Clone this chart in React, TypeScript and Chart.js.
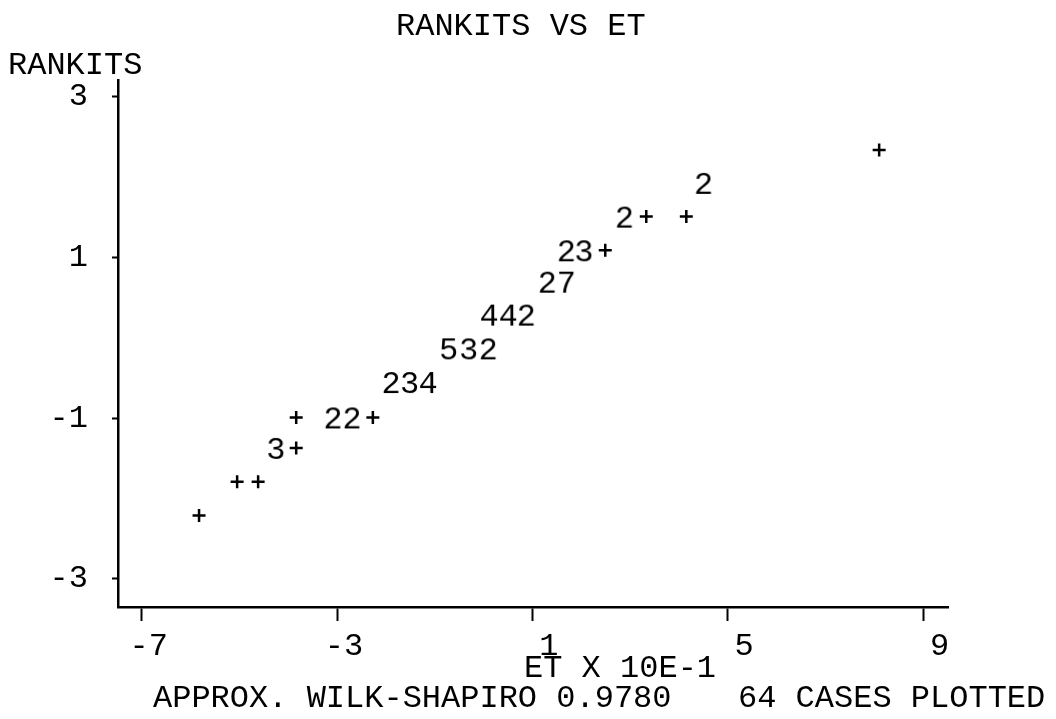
import React, { useEffect, useRef } from 'react';
import { Chart, registerables } from 'chart.js';

Chart.register(...registerables);

const FONT = '"Liberation Mono", "Courier New", monospace';
const FONT_SIZE = 32;

// Character cells of the line-printer normal plot.
// x = ET x 10E-1, y = rankit, mark: '+' = one case, digit = number of cases in the cell
const cellX = [8.10, 4.50, 2.88, 3.33, 4.15, 1.69, 2.06, 2.49, 1.30, 1.69, 0.11, 0.50, 0.87, -0.71, -0.30, 0.09, -1.90, -1.51, -1.14, -3.84, -3.09, -2.70, -2.27, -4.25, -3.84, -5.05, -4.62, -5.83];
const cellY = [2.34, 1.93, 1.51, 1.51, 1.51, 1.09, 1.09, 1.09, 0.70, 0.70, 0.29, 0.29, 0.29, -0.13, -0.13, -0.13, -0.55, -0.55, -0.55, -0.99, -0.99, -0.99, -0.99, -1.37, -1.37, -1.79, -1.79, -2.21];
const cellMark = ['+', '2', '2', '+', '+', '2', '3', '+', '2', '7', '4', '4', '2', '5', '3', '2', '2', '3', '4', '+', '2', '2', '+', '3', '+', '+', '+', '+'];

const xTicks = [-7, -3, 1, 5, 9];
const yTicks = [-3, -1, 1, 3];

const titleText = 'RANKITS VS ET';
const yTitle = 'RANKITS';
const xTitle = 'ET X 10E-1';
const footLeft = 'APPROX. WILK-SHAPIRO 0.9780';
const footRight = '64 CASES PLOTTED';

const W = 1056;
const H = 719;

function makeGlyph(ch: string): HTMLCanvasElement {
  const c = document.createElement('canvas');
  c.width = 28;
  c.height = 34;
  const g = c.getContext('2d')!;
  g.font = `${FONT_SIZE}px ${FONT}`;
  g.fillStyle = '#000';
  g.textAlign = 'left';
  g.textBaseline = 'alphabetic';
  const m = g.measureText(ch);
  const gw = m.actualBoundingBoxLeft + m.actualBoundingBoxRight;
  const gh = m.actualBoundingBoxAscent + m.actualBoundingBoxDescent;
  const x = (c.width - gw) / 2 + m.actualBoundingBoxLeft;
  const y = (c.height - gh) / 2 + m.actualBoundingBoxAscent;
  g.fillText(ch, x, y);
  return c;
}

const textPlugin = {
  id: 'printerText',
  afterDraw(chart: any) {
    const ctx = chart.ctx as CanvasRenderingContext2D;
    ctx.save();
    ctx.fillStyle = '#000';
    ctx.font = `${FONT_SIZE}px ${FONT}`;
    ctx.textAlign = 'left';
    ctx.textBaseline = 'alphabetic';
    ctx.fillText(titleText, 396, 35);
    ctx.fillText(yTitle, 8, 74);
    ctx.fillText(xTitle, 524, 677);
    ctx.fillText(footLeft, 153, 707);
    ctx.fillText(footRight, 738, 707);
    ctx.restore();
  },
};

export default function App() {
  const ref = useRef<HTMLCanvasElement | null>(null);

  useEffect(() => {
    if (!ref.current) return;
    const glyphs: Record<string, HTMLCanvasElement> = {};
    cellMark.forEach((m) => {
      if (m !== '+' && !glyphs[m]) glyphs[m] = makeGlyph(m);
    });
    const data = cellX.map((x, i) => ({ x, y: cellY[i] }));

    const chart = new Chart(ref.current, {
      type: 'scatter',
      data: {
        datasets: [
          {
            label: 'RANKITS',
            data,
            showLine: false,
            pointStyle: (c: any) => {
              const m = cellMark[c.dataIndex];
              return m === '+' ? 'cross' : glyphs[m];
            },
            pointRadius: 6.5,
            pointBorderWidth: 2.5,
            pointBorderColor: '#000',
            pointBackgroundColor: '#000',
          } as any,
        ],
      },
      options: {
        animation: false,
        responsive: false,
        devicePixelRatio: 1,
        events: [],
        layout: { padding: { top: 80, right: 108, left: 0, bottom: 0 } },
        plugins: {
          legend: { display: false },
          tooltip: { enabled: false },
          title: { display: false },
        },
        scales: {
          x: {
            type: 'linear',
            min: -7.49,
            max: 9.51,
            afterBuildTicks: (s: any) => {
              s.ticks = xTicks.map((v) => ({ value: v }));
            },
            afterFit: (s: any) => {
              s.height = H - 607;
            },
            grid: { drawOnChartArea: false, drawTicks: true, tickLength: 14, tickWidth: 2, tickColor: '#000' },
            border: { display: true, color: '#000', width: 2.5 },
            ticks: {
              color: '#000',
              font: { family: FONT, size: FONT_SIZE },
              align: 'end',
              labelOffset: 26,
              padding: 6,
              maxRotation: 0,
              autoSkip: false,
              callback: (v: any) => String(v),
            },
          },
          y: {
            type: 'linear',
            min: -3.35,
            max: 3.21,
            afterBuildTicks: (s: any) => {
              s.ticks = yTicks.map((v) => ({ value: v }));
            },
            afterFit: (s: any) => {
              s.width = 118;
            },
            grid: { drawOnChartArea: false, drawTicks: true, tickLength: 6, tickWidth: 2, tickColor: '#000' },
            border: { display: true, color: '#000', width: 2.5 },
            ticks: {
              color: '#000',
              font: { family: FONT, size: FONT_SIZE },
              padding: 24,
              autoSkip: false,
              callback: (v: any) => String(v),
            },
          },
        },
      },
      plugins: [textPlugin],
    });
    return () => chart.destroy();
  }, []);

  return (
    <div style={{ position: 'fixed', left: 0, top: 0, width: W, height: H, background: '#fff' }}>
      <canvas ref={ref} width={W} height={H} style={{ width: W, height: H, display: 'block' }} />
    </div>
  );
}
